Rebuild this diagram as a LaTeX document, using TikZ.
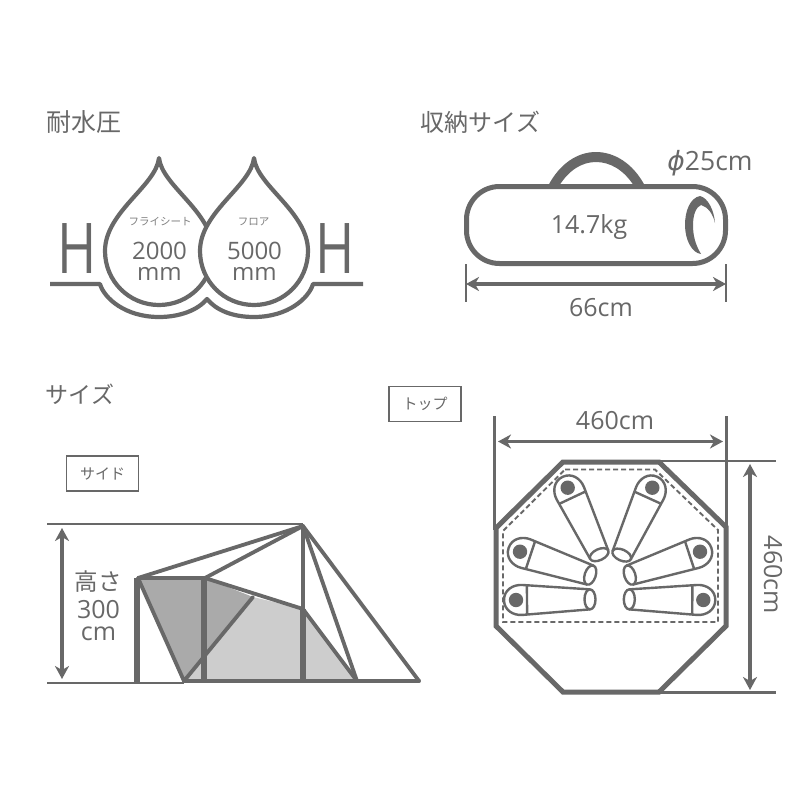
\documentclass[tikz,border=0pt]{standalone}
\usepackage{fontspec}
\usepackage{graphicx}
\setmainfont{Open Sans}
\newfontfamily\cjkfont{Noto Sans CJK JP}
\newfontfamily\phifont{DejaVu Sans}
\usetikzlibrary{arrows.meta}
\definecolor{tentgray}{RGB}{104,104,104}
\definecolor{panelgray}{RGB}{170,170,170}
\definecolor{floorgray}{RGB}{205,205,205}
\tikzset{
    heading/.style={text=tentgray, inner sep=0pt, font=\cjkfont\fontsize{24}{24}\selectfont},
    sizelabel/.style={text=tentgray, inner sep=0pt, font=\fontsize{25}{25}\selectfont},
    stacklabel/.style={text=tentgray, inner sep=0pt, align=center, font=\fontsize{24}{21}\selectfont},
    droptitle/.style={text=tentgray!85, inner sep=0pt, font=\cjkfont\fontsize{10.5}{11}\selectfont},
    viewbox/.style={draw=tentgray, line width=1.5pt, minimum width=72pt, minimum height=35pt, text=tentgray, inner sep=0pt, font=\cjkfont\fontsize{15}{15}\selectfont},
    waterline/.style={draw=tentgray, line width=4.2pt, line join=round},
    tubeline/.style={draw=tentgray, line width=5pt},
    thinline/.style={draw=tentgray, line width=2.2pt},
    poleline/.style={draw=tentgray, line width=5.4pt},
    guyline/.style={draw=tentgray, line width=3.8pt, line cap=round, line join=round},
    dimarrow/.style={draw=tentgray, line width=3.2pt, {Stealth[length=13pt,width=14pt,inset=4pt]}-{Stealth[length=13pt,width=14pt,inset=4pt]}},
    bagline/.style={draw=tentgray, line width=2.4pt, fill=white},
}

\begin{document}
\begin{tikzpicture}[x=1pt, y=-1pt]
    \useasboundingbox (0,0) rectangle (800,800);
    \fill[white] (0,0) rectangle (800,800);

    % headings
    \node[heading, font=\cjkfont\fontsize{25}{25}\selectfont] (pressuretitle) at (83.5,122) {耐水圧};
    \node[heading] (packtitle) at (480.5,122) {収納サイズ};
    \node[heading, font=\cjkfont\fontsize{23}{23}\selectfont] (sizetitle) at (80,394) {サイズ};

    % water pressure
    \draw[waterline] (50,284) -- (100,284) .. controls (104,298) and (125,317) .. (159,317)
        .. controls (180,317) and (198,310) .. (207,299) .. controls (216,310) and (232,317) .. (254,317)
        .. controls (288,317) and (309,298) .. (313,284) -- (363,284);
    \foreach \cx in {159,254} {
        \begin{scope}[shift={(\cx,0)}]
            \draw[waterline, fill=white] (0,158) .. controls (-3,186) and (-54,212) .. (-54,251)
                .. controls (-54,281) and (-30,305) .. (0,305)
                .. controls (30,305) and (54,281) .. (54,251)
                .. controls (54,212) and (3,186) .. (0,158) -- cycle;
        \end{scope}
    }
    \node[text=tentgray, inner sep=0pt, font=\fontsize{70}{70}\selectfont] (hleft) at (77.5,249) {\scalebox{0.76}[1]{H}};
    \node[text=tentgray, inner sep=0pt, font=\fontsize{70}{70}\selectfont] (hright) at (335,249) {\scalebox{0.76}[1]{H}};
    \node[droptitle] (flylabel) at (160,222) {フライシート};
    \node[droptitle] (floorlabel) at (253.5,222) {フロア};
    \node[stacklabel] (flyvalue) at (159.5,261) {2000\\mm};
    \node[stacklabel] (floorvalue) at (254.5,261) {5000\\mm};

    % storage bag
    \fill[tentgray] (548,186) .. controls (560,163) and (578,152) .. (596,152) .. controls (614,152) and (633,163) .. (645,186)
        -- (634,186) .. controls (624,170) and (610,162) .. (596,162) .. controls (582,162) and (569,170) .. (559,186) -- cycle;
    \draw[tubeline, fill=white, rounded corners=33pt] (466.5,186.5) rectangle (725.5,263.5);
    \fill[tentgray] (700,196) .. controls (690,198) and (685,211) .. (685,225) .. controls (685,240) and (692,253) .. (701,254)
        .. controls (695,244) and (693,235) .. (693,225) .. controls (693,215) and (696,207) .. (701,205)
        .. controls (708,207) and (713,214) .. (715,223) .. controls (714,210) and (708,198) .. (700,196) -- cycle;
    \node[sizelabel] (weightlabel) at (589,227) {14.7kg};
    \node[sizelabel, font=\fontsize{26.5}{26.5}\selectfont] (diameterlabel) at (710,163) {{\phifont\itshape ϕ}25cm};
    \coordinate (bagleft) at (466,284);
    \coordinate (bagright) at (726,284);
    \draw[thinline] (466,264) -- (466,302);
    \draw[thinline] (726,264) -- (726,302);
    \draw[dimarrow] (bagleft) -- (bagright);
    \node[sizelabel] (baglength) at (601,308) {66cm};

    % side view
    \node[viewbox] (sidebox) at (102.5,473.5) {サイド};
    \coordinate (apex) at (303,526);
    \coordinate (backtop) at (138,578);
    \coordinate (midtop) at (205,578);
    \coordinate (frontmid) at (303,609);
    \coordinate (crossend) at (253,597);
    \coordinate (backfoot) at (184,681);
    \coordinate (frontfoot) at (357,681);
    \coordinate (guyfoot) at (419,681);
    \fill[panelgray] (backtop) -- (midtop) -- (crossend) -- (backfoot) -- cycle;
    \fill[floorgray] (crossend) -- (frontmid) -- (frontfoot) -- (backfoot) -- cycle;
    \draw[thinline] (47,524) -- (303,524);
    \draw[thinline] (47,683) -- (184,683);
    \draw[guyline] (backfoot) -- (guyfoot);
    \draw[poleline] (137,578) -- (137,683);
    \draw[poleline] (204,578) -- (204,683);
    \draw[guyline] (303,526) -- (303,609);
    \draw[poleline] (303,609) -- (303,683);
    \draw[guyline] (backtop) -- (apex);
    \draw[guyline] (midtop) -- (apex);
    \draw[guyline] (backtop) -- (midtop) -- (frontmid) -- (frontfoot);
    \draw[guyline] (apex) -- (frontfoot);
    \draw[guyline] (apex) -- (guyfoot);
    \draw[guyline] (backtop) -- (backfoot) -- (crossend);
    \coordinate (heighttop) at (62,528);
    \coordinate (heightbottom) at (62,679);
    \draw[dimarrow] (heighttop) -- (heightbottom);
    \node[sizelabel, anchor=base, font=\cjkfont\fontsize{23.5}{24}\selectfont] (heightlabel) at (98,590) {高さ};
    \node[stacklabel, font=\fontsize{25}{22}\selectfont] (heightvalue) at (98.5,621) {300\\cm};

    % top view
    \node[viewbox] (topbox) at (425,404) {トップ};
    \draw[thinline] (494.5,416) -- (494.5,530);
    \draw[thinline] (726.5,416) -- (726.5,528);
    \draw[thinline] (658,461) -- (776,461);
    \draw[thinline] (658,692.5) -- (776,692.5);
    \draw[tubeline, line join=miter] (563,462) -- (659,462) -- (726,527) -- (726,626) -- (659,692) -- (563,692) -- (496,626) -- (496,528) -- cycle;
    \draw[draw=tentgray, line width=1.9pt, dash pattern=on 5pt off 3pt] (565,469.5) -- (655,469.5) -- (718,530) -- (718,622) -- (503,622) -- (503,531) -- cycle;
    \foreach \hx/\hy/\ang in {567.7/487.7/-64.8, 652.3/487.7/-114.4, 520/551.7/-18.4, 700/551.7/-161.6, 516/600/0.5, 703.3/600/179.5} {
        \begin{scope}[shift={(\hx,\hy)}, rotate=\ang]
            \draw[bagline] (74,-10) -- (6,-15) .. controls (-3,-15.5) and (-12,-10) .. (-12,0)
                .. controls (-12,10) and (-3,15.5) .. (6,15) -- (74,10);
            \draw[bagline] (11,-14.5) -- (11,14.5);
            \fill[tentgray] (0,0) circle (7.2pt);
            \draw[bagline] (74,0) ellipse (5.5pt and 10pt);
        \end{scope}
    }
    \coordinate (widthleft) at (498,441.5);
    \coordinate (widthright) at (723,441.5);
    \draw[dimarrow] (widthleft) -- (widthright);
    \node[sizelabel] (widthlabel) at (615,421) {460cm};
    \coordinate (depthtop) at (750,464);
    \coordinate (depthbottom) at (750,690);
    \draw[dimarrow] (depthtop) -- (depthbottom);
    \node[sizelabel, rotate=-90] (depthlabel) at (773,575) {460cm};
\end{tikzpicture}
\end{document}
